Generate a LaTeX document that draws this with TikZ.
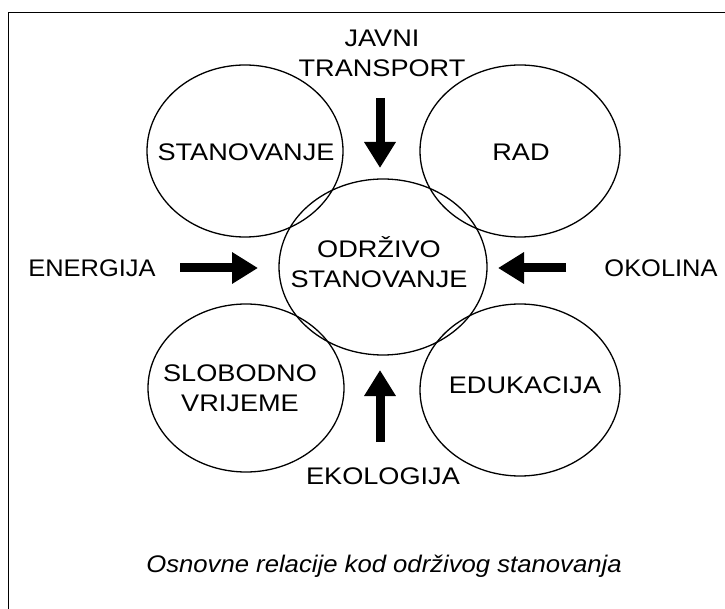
\documentclass[tikz,border=0pt]{standalone}
\usepackage{fontspec}
\setmainfont{Liberation Sans}[FakeStretch=1.13]
\newfontfamily\capfont{Liberation Sans}[FakeStretch=1.07]
\newfontfamily\sidefont{Liberation Sans}[FakeStretch=1.06]
\usetikzlibrary{arrows.meta}
\begin{document}
\begin{tikzpicture}[x=1pt,y=-1pt,
  lbl/.style={font=\fontsize{24}{30}\selectfont, align=center, inner sep=0pt},
  circ/.style={draw, line width=1.3pt},
  blockarrow/.style={line width=9pt, -{Triangle[width=30pt,length=26pt]}}]
\useasboundingbox (0,0) rectangle (725,609);
\draw[line width=1pt] (8,609) -- (8,13) -- (725,13);
% ellipses
\draw[circ] (245,151) ellipse [x radius=98, y radius=86];
\draw[circ] (520,151) ellipse [x radius=100, y radius=86];
\draw[circ] (383,267) ellipse [x radius=104, y radius=88];
\draw[circ] (246,388) ellipse [x radius=98, y radius=84];
\draw[circ] (520,390) ellipse [x radius=100, y radius=86];
% labels
\node[lbl] (jt) at (382,53) {JAVNI\\TRANSPORT};
\node[lbl] (st) at (246,152) {STANOVANJE};
\node[lbl] (rad) at (521,152) {RAD};
\node[lbl] (os) at (379,262) {ODRŽIVO\\STANOVANJE};
\node[lbl, font=\fontsize{24}{30}\sidefont] (en) at (92,268) {ENERGIJA};
\node[lbl, font=\fontsize{24}{30}\sidefont] (ok) at (661,268) {OKOLINA};
\node[lbl] (sv) at (240,388) {SLOBODNO\\VRIJEME};
\node[lbl] (ed) at (525,385) {EDUKACIJA};
\node[lbl] (ek) at (383,476) {EKOLOGIJA};
\node[lbl, font=\fontsize{24}{30}\capfont\itshape] (cap) at (384,566) {Osnovne relacije kod održivog stanovanja};
% arrows
\coordinate (a1s) at (380,98);  \coordinate (a1e) at (380,168);
\coordinate (a2s) at (180,268); \coordinate (a2e) at (258,268);
\coordinate (a3s) at (566,268); \coordinate (a3e) at (498,268);
\coordinate (a4s) at (380,442); \coordinate (a4e) at (380,370);
\draw[blockarrow] (a1s) -- (a1e);
\draw[blockarrow] (a2s) -- (a2e);
\draw[blockarrow] (a3s) -- (a3e);
\draw[blockarrow] (a4s) -- (a4e);
\end{tikzpicture}
\end{document}
